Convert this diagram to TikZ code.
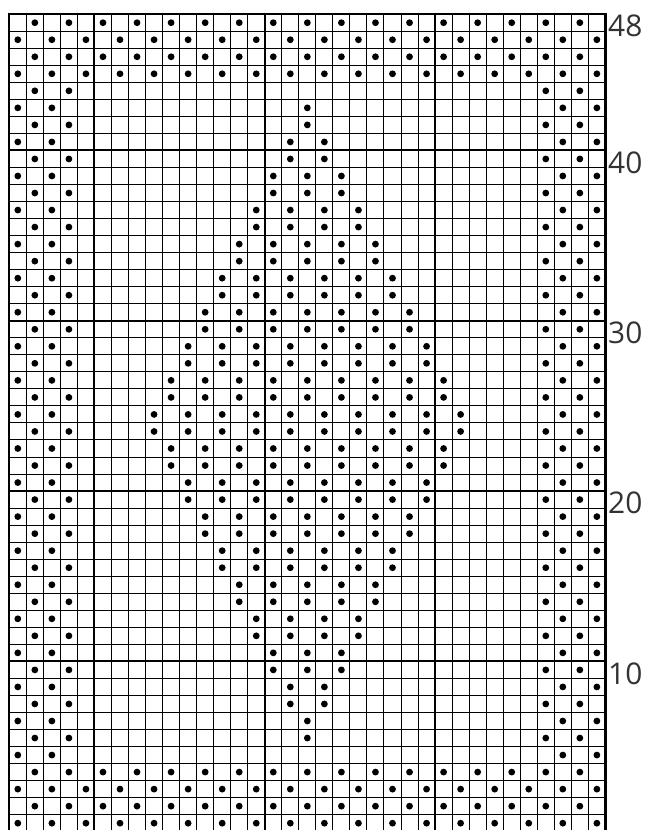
\documentclass[tikz,border=0pt]{standalone}
\usepackage{fontspec}
\setmainfont{Open Sans}
\definecolor{labelgray}{HTML}{333333}
\tikzset{
    stitch/.style={fill=black},
    rowlabel/.style={anchor=west, inner sep=0pt, text=labelgray,
        font=\fontsize{30}{30}\selectfont}
}
\begin{document}
\begin{tikzpicture}[x=17.03bp, y=17.03bp]
    % Page size with the margins of the chart
    \useasboundingbox (-0.546,0.1) rectangle (37.366,48.834);

    % Thin grid, 35 stitches by 48 rows
    \draw[line width=1bp, step=1] (0,0) grid (35,48);

    % Thick lines every 10 stitches (from the right) and every 10 rows
    \foreach \c in {5,15,25}
        \draw[line width=2bp] (\c,0) -- (\c,48);
    \foreach \r in {10,20,30,40}
        \draw[line width=2bp] (0,\r) -- (35,\r);

    % Outer frame
    \draw[line width=2.4bp] (0,0) rectangle (35,48);

    % Seed stitch border: 4 rows top and bottom, 4 stitches each side
    \foreach \r in {1,...,48}
        \foreach \c in {1,...,35} {
            \pgfmathtruncatemacro{\isdot}{and(mod(\c+\r,2)==0, or(or(\r<5,\r>44), or(\c<5,\c>31)))}
            \ifnum\isdot=1 \fill[stitch] (\c-0.5,\r-0.5) circle[radius=3.4bp];\fi
        }

    % Seed stitch diamond, each pattern row worked twice
    \foreach \r in {6,...,43} {
        \pgfmathtruncatemacro{\k}{9-abs(floor((\r-6)/2)-9)}
        \foreach \i in {0,...,\k}
            \fill[stitch] (18-\k+2*\i-0.5,\r-0.5) circle[radius=3.4bp];
    }

    % Row numbers
    \foreach \r in {48,40,30,20,10}
        \node[rowlabel] (row\r) at (35.15,\r-0.7) {\r};
\end{tikzpicture}
\end{document}
